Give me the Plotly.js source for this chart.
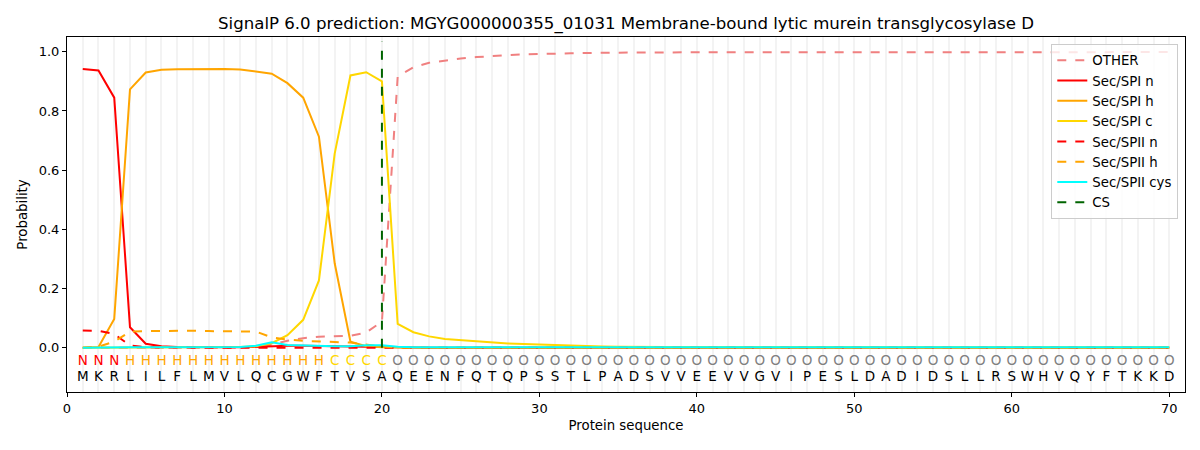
<!DOCTYPE html>
<html>
<head>
<meta charset="utf-8">
<script src="https://cdn.plot.ly/plotly-3.0.1.min.js"></script>
<style>
  body { margin: 0; background: #fff; }
  #plot { width: 1200px; height: 450px; }
</style>
</head>
<body>
<div id="plot"></div>
<script>
// Sequence and per-residue region labels
var sequence = "MKRLILFLMVLQCGWFTVSAQEENFQTQPSSTLPADSVVEEVVGVIPESLDADIDSLLRSWHVQYFTKKD".split("");
var regions = "NNNHHHHHHHHHHHHHCCCCOOOOOOOOOOOOOOOOOOOOOOOOOOOOOOOOOOOOOOOOOOOOOOOOOO".split("");
var csPos = 20;

// Probabilities, positions 1..70
var other = [0, 0, 0, 0, 0, 0, 0, 0, 0, 0,
  0, 0.003, 0.01, 0.023, 0.032, 0.037, 0.039, 0.04, 0.051, 0.088,
  0.916, 0.948, 0.963, 0.971, 0.977, 0.982, 0.986, 0.989, 0.991, 0.993,
  0.994, 0.995, 0.996, 0.997, 0.997, 0.998, 0.998, 0.998, 0.998, 0.998,
  0.999, 0.999, 0.999, 0.999, 0.999, 0.999, 0.999, 0.999, 0.999, 0.999,
  0.999, 0.999, 0.999, 0.999, 0.999, 0.999, 0.999, 0.999, 0.999, 0.999,
  0.999, 0.999, 0.999, 0.999, 0.999, 0.999, 0.999, 0.999, 0.999, 0.999];
var spiN = [0.942, 0.937, 0.845, 0.069, 0.013, 0.005, 0.002, 0.001, 0.001, 0.001,
  0.001, 0.003, 0.005, 0.006, 0.006, 0.005, 0.005, 0.004, 0.004, 0.003,
  0.001, 0, 0, 0, 0, 0, 0, 0, 0, 0,
  0, 0, 0, 0, 0, 0, 0, 0, 0, 0,
  0, 0, 0, 0, 0, 0, 0, 0, 0, 0,
  0, 0, 0, 0, 0, 0, 0, 0, 0, 0,
  0, 0, 0, 0, 0, 0, 0, 0, 0, 0];
var spiH = [0, 0.002, 0.097, 0.873, 0.93, 0.939, 0.941, 0.942, 0.942, 0.942,
  0.94, 0.934, 0.926, 0.894, 0.845, 0.713, 0.285, 0.02, 0.005, 0.001,
  0, 0, 0, 0, 0, 0, 0, 0, 0, 0,
  0, 0, 0, 0, 0, 0, 0, 0, 0, 0,
  0, 0, 0, 0, 0, 0, 0, 0, 0, 0,
  0, 0, 0, 0, 0, 0, 0, 0, 0, 0,
  0, 0, 0, 0, 0, 0, 0, 0, 0, 0];
var spiC = [0, 0, 0, 0, 0, 0, 0, 0, 0, 0.001,
  0.002, 0.005, 0.015, 0.042, 0.094, 0.227, 0.656, 0.92, 0.931, 0.9,
  0.08, 0.052, 0.038, 0.029, 0.025, 0.02, 0.017, 0.014, 0.012, 0.01,
  0.008, 0.006, 0.005, 0.004, 0.003, 0.002, 0.002, 0.002, 0.002, 0.002,
  0.001, 0.001, 0.001, 0.001, 0.001, 0.001, 0.001, 0.001, 0.001, 0.001,
  0.001, 0.001, 0.001, 0.001, 0.001, 0.001, 0.001, 0.001, 0.001, 0.001,
  0.001, 0.001, 0.001, 0.001, 0.001, 0.001, 0.001, 0.001, 0.001, 0.001];
var spiiN = [0.058, 0.057, 0.046, 0.007, 0.001, 0, 0, 0, 0, 0,
  0, 0, 0, 0, 0, 0, 0, 0, 0, 0,
  0, 0, 0, 0, 0, 0, 0, 0, 0, 0,
  0, 0, 0, 0, 0, 0, 0, 0, 0, 0,
  0, 0, 0, 0, 0, 0, 0, 0, 0, 0,
  0, 0, 0, 0, 0, 0, 0, 0, 0, 0,
  0, 0, 0, 0, 0, 0, 0, 0, 0, 0];
var spiiH = [0, 0.003, 0.02, 0.054, 0.056, 0.057, 0.057, 0.057, 0.056, 0.056,
  0.055, 0.054, 0.035, 0.027, 0.023, 0.02, 0.019, 0.017, 0.01, 0.003,
  0, 0, 0, 0, 0, 0, 0, 0, 0, 0,
  0, 0, 0, 0, 0, 0, 0, 0, 0, 0,
  0, 0, 0, 0, 0, 0, 0, 0, 0, 0,
  0, 0, 0, 0, 0, 0, 0, 0, 0, 0,
  0, 0, 0, 0, 0, 0, 0, 0, 0, 0];
var spiiCys = [0, 0.001, 0.001, 0.001, 0.001, 0.001, 0.001, 0.001, 0.001, 0.001,
  0.002, 0.006, 0.018, 0.009, 0.007, 0.006, 0.005, 0.005, 0.008, 0.008,
  0.003, 0.001, 0.001, 0.001, 0.001, 0.001, 0.001, 0.001, 0.001, 0.001,
  0.001, 0.001, 0.001, 0.001, 0.001, 0.001, 0.001, 0.001, 0.001, 0.001,
  0.001, 0.001, 0.001, 0.001, 0.001, 0.001, 0.001, 0.001, 0.001, 0.001,
  0.001, 0.001, 0.001, 0.001, 0.001, 0.001, 0.001, 0.001, 0.001, 0.001,
  0.001, 0.001, 0.001, 0.001, 0.001, 0.001, 0.001, 0.001, 0.001, 0.001];

var pos = sequence.map(function (_, i) { return i + 1; });
var regionColor = { N: "red", H: "orange", C: "gold", O: "gray" };

function line(name, y, color, dash) {
  return {
    type: "scatter", mode: "lines", name: name,
    x: pos, y: y,
    line: { color: color, width: 2, dash: dash || "solid" },
    hoverinfo: "skip"
  };
}

var traces = [
  line("OTHER", other, "#f08080", "dash"),
  line("Sec/SPI n", spiN, "red"),
  line("Sec/SPI h", spiH, "orange"),
  line("Sec/SPI c", spiC, "gold"),
  line("Sec/SPII n", spiiN, "red", "dash"),
  line("Sec/SPII h", spiiH, "orange", "dash"),
  line("Sec/SPII cys", spiiCys, "cyan"),
  {
    type: "scatter", mode: "lines", name: "CS",
    x: [csPos, csPos], y: [0, 1.035],
    line: { color: "darkgreen", width: 2, dash: "dash" },
    hoverinfo: "skip"
  },
  {
    type: "scatter", mode: "text", showlegend: false,
    x: pos, y: pos.map(function () { return -0.047; }),
    text: regions,
    textfont: { family: "DejaVu Sans", size: 13.5, color: regions.map(function (r) { return regionColor[r]; }) },
    hoverinfo: "skip"
  },
  {
    type: "scatter", mode: "text", showlegend: false,
    x: pos, y: pos.map(function () { return -0.1; }),
    text: sequence,
    textfont: { family: "DejaVu Sans", size: 13.5, color: "black" },
    hoverinfo: "skip"
  }
];

var layout = {
  width: 1200,
  height: 450,
  margin: { l: 67, r: 15, t: 37, b: 58 },
  paper_bgcolor: "white",
  plot_bgcolor: "white",
  font: { family: "DejaVu Sans", size: 13, color: "black" },
  title: {
    text: "SignalP 6.0 prediction: MGYG000000355_01031 Membrane-bound lytic murein transglycosylase D",
    font: { size: 16.6 },
    xref: "paper", x: 0.5, xanchor: "center", y: 0.949, yanchor: "middle"
  },
  xaxis: {
    range: [0, 71],
    tick0: 0, dtick: 10,
    ticks: "outside", ticklen: 4, tickcolor: "black",
    tickfont: { size: 13 },
    showline: true, linecolor: "black", mirror: true,
    showgrid: true, gridcolor: "#f3f3f3", gridwidth: 2,
    minor: { dtick: 1, showgrid: true, gridcolor: "#f3f3f3", gridwidth: 2 },
    zeroline: false,
    title: { text: "Protein sequence", font: { size: 13.3 }, standoff: 6 }
  },
  yaxis: {
    range: [-0.15, 1.05],
    tickvals: [0, 0.2, 0.4, 0.6, 0.8, 1.0],
    ticktext: ["0.0", "0.2", "0.4", "0.6", "0.8", "1.0"],
    ticks: "outside", ticklen: 4, tickcolor: "black",
    tickfont: { size: 13 },
    showline: true, linecolor: "black", mirror: true,
    showgrid: false, zeroline: false,
    title: { text: "Probability", font: { size: 13.3 }, standoff: 8 }
  },
  legend: {
    x: 0.994, xanchor: "right", y: 0.98, yanchor: "top",
    bgcolor: "rgba(255,255,255,0.8)",
    bordercolor: "#cccccc", borderwidth: 1,
    font: { size: 13.3 }
  },
  showlegend: true
};

Plotly.newPlot("plot", traces, layout, { staticPlot: true });
</script>
</body>
</html>
